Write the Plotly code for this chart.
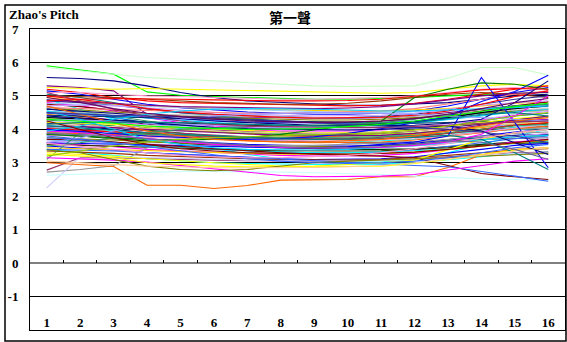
import plotly.graph_objects as go

CATEGORIES = list(range(1, 17))
TICK_LABELS = [str(c) for c in CATEGORIES]
TICK_BOUNDARIES = [c + 0.5 for c in CATEGORIES[:-1]]
Y_TICKS = list(range(-2, 8))
Y_TICK_LABELS = ["-2", "-1", "0", "1", "2", "3", "4", "5", "6", "7"]

S01 = [5.90,5.78,5.65,5.12,5.02,4.98,4.95,4.92,4.90,4.90,4.92,4.95,5.00,5.05,5.08,5.10]
S02 = [5.85,5.75,5.65,5.55,5.50,5.45,5.40,5.35,5.30,5.28,5.28,5.30,5.53,5.85,5.85,5.62]
S03 = [5.55,5.52,5.45,5.30,5.10,4.95,4.85,4.80,4.75,4.72,4.72,4.75,4.80,4.90,5.00,5.05]
S04 = [5.30,5.25,5.15,4.45,4.40,4.38,4.36,4.35,4.33,4.33,4.35,4.40,4.50,4.60,4.70,4.75]
S05 = [5.25,5.22,5.20,5.22,5.20,5.18,5.15,5.12,5.10,5.08,5.08,5.10,5.20,5.30,5.35,5.30]
S06 = [5.20,5.10,4.95,4.85,4.80,4.78,4.75,4.72,4.70,4.70,4.72,4.78,4.90,5.05,5.20,5.30]
S07 = [5.15,5.05,4.90,4.75,4.65,4.58,4.52,4.48,4.45,4.45,4.48,4.55,4.70,4.90,5.10,5.25]
S08 = [5.10,5.10,5.05,5.00,4.98,4.95,4.92,4.90,4.90,4.92,4.95,5.00,5.10,5.20,5.25,5.20]
S09 = [5.05,4.95,4.80,4.62,4.50,4.40,4.32,4.25,4.20,4.18,4.18,4.22,4.30,4.42,4.55,4.60]
S10 = [5.00,4.98,4.95,4.90,4.85,4.80,4.78,4.75,4.75,4.78,4.85,4.95,5.05,5.10,5.05,4.95]
S11 = [4.90,4.60,4.30,4.00,3.70,3.45,3.25,3.12,3.05,3.02,3.02,3.10,3.30,3.55,3.80,4.00]
S12 = [4.95,4.85,4.75,4.70,4.65,4.62,4.60,4.58,4.55,4.55,4.55,4.58,4.62,4.70,4.78,4.82]
S13 = [4.85,4.80,4.72,4.60,4.50,4.45,4.40,4.38,4.35,4.35,4.38,4.45,4.58,4.75,4.90,5.00]
S14 = [4.80,4.70,4.55,4.35,4.20,4.10,4.05,4.00,3.98,3.98,4.00,4.05,4.12,4.20,4.25,4.30]
S15 = [4.78,4.75,4.70,4.68,4.65,4.62,4.58,4.55,4.52,4.50,4.50,4.52,4.55,4.60,4.65,4.68]
S16 = [4.75,4.68,4.58,4.45,4.38,4.32,4.28,4.25,4.22,4.22,4.25,4.32,4.42,4.55,4.70,4.82]
S17 = [4.70,4.72,4.70,4.65,4.58,4.50,4.45,4.42,4.40,4.40,4.42,4.48,4.60,4.72,4.80,4.85]
S18 = [4.68,4.55,4.40,4.25,4.12,4.02,3.95,3.90,3.88,3.88,3.90,3.95,4.05,4.18,4.30,4.38]
S19 = [4.65,4.62,4.60,4.55,4.52,4.50,4.48,4.48,4.50,4.52,4.55,4.62,4.75,4.90,5.05,5.15]
S20 = [4.62,4.50,4.35,4.20,4.08,4.00,3.95,3.92,3.90,3.90,3.92,3.98,4.10,4.25,4.40,4.48]
S21 = [4.60,4.58,4.52,4.45,4.40,4.35,4.32,4.30,4.28,4.28,4.30,4.35,4.42,4.50,4.55,4.55]
S22 = [4.55,4.48,4.40,4.32,4.25,4.20,4.15,4.12,4.10,4.10,4.12,4.18,4.28,4.40,4.52,4.60]
S23 = [4.52,4.50,4.48,4.45,4.42,4.40,4.38,4.36,4.35,4.35,4.36,4.40,4.45,4.52,4.58,4.62]
S24 = [4.50,4.40,4.28,4.15,4.05,3.98,3.92,3.88,3.85,3.85,3.88,3.95,4.05,4.15,4.22,4.25]
S25 = [4.48,4.45,4.40,4.35,4.30,4.25,4.22,4.20,4.18,4.18,4.20,4.25,4.35,4.50,4.65,4.75]
S26 = [4.45,4.35,4.22,4.10,4.00,3.92,3.85,3.80,3.78,3.78,3.80,3.85,3.95,4.05,4.15,4.20]
S27 = [4.42,4.40,4.38,4.35,4.32,4.30,4.28,4.25,4.22,4.20,4.18,4.18,4.20,4.22,4.25,4.28]
S28 = [4.40,4.32,4.22,4.12,4.05,4.00,3.98,3.95,3.95,3.95,3.98,4.05,4.15,4.28,4.42,4.55]
S29 = [4.38,4.30,4.20,4.10,4.02,3.95,3.90,3.86,3.82,3.80,3.80,3.82,3.88,3.95,4.00,4.02]
S30 = [4.35,4.32,4.28,4.22,4.18,4.15,4.12,4.10,4.10,4.12,4.15,4.22,4.35,4.50,4.62,4.70]
S31 = [4.32,4.25,4.15,4.05,3.98,3.92,3.88,3.85,3.82,3.82,3.85,3.90,3.98,4.08,4.18,4.22]
S32 = [4.30,4.28,4.25,4.20,4.15,4.12,4.08,4.05,4.02,4.00,4.00,4.02,4.05,4.10,4.12,4.15]
S33 = [4.28,4.20,4.10,3.98,3.88,3.80,3.75,3.72,3.70,3.70,3.72,3.78,3.88,4.00,4.12,4.18]
S34 = [4.25,4.22,4.18,4.12,4.08,4.05,4.02,4.00,3.98,3.98,4.00,4.05,4.15,4.30,4.45,4.55]
S35 = [4.22,4.15,4.05,3.95,3.88,3.82,3.78,3.75,3.72,3.72,3.75,3.80,3.88,3.98,4.05,4.08]
S36 = [4.20,4.18,4.15,4.10,4.05,4.00,3.96,3.92,3.90,3.90,3.92,3.98,4.08,4.20,4.32,4.40]
S37 = [4.18,4.10,4.00,3.90,3.82,3.75,3.70,3.66,3.62,3.60,3.60,3.62,3.68,3.75,3.82,3.85]
S38 = [4.15,4.12,4.08,4.02,3.98,3.95,3.92,3.90,3.88,3.88,3.90,3.95,4.02,4.10,4.18,4.22]
S39 = [4.12,4.05,3.95,3.85,3.78,3.72,3.68,3.65,3.62,3.62,3.65,3.70,3.80,3.92,4.05,4.12]
S40 = [4.10,4.08,4.05,4.00,3.95,3.90,3.86,3.82,3.80,3.80,3.82,3.88,3.98,4.12,4.28,4.40]
S41 = [4.05,4.00,3.92,3.85,3.78,3.72,3.68,3.65,3.62,3.60,3.60,3.62,3.65,3.70,3.72,3.75]
S42 = [4.02,3.98,3.92,3.88,3.82,3.78,3.75,3.72,3.70,3.70,3.72,3.78,3.88,4.00,4.12,4.20]
S43 = [4.00,3.92,3.82,3.72,3.65,3.60,3.55,3.52,3.50,3.50,3.52,3.58,3.68,3.80,3.92,4.00]
S44 = [3.95,3.92,3.88,3.82,3.78,3.75,3.72,3.70,3.68,3.68,3.70,3.75,3.82,3.92,4.00,4.05]
S45 = [3.92,3.85,3.75,3.65,3.58,3.52,3.48,3.45,3.42,3.42,3.45,3.50,3.58,3.68,3.78,3.82]
S46 = [3.90,3.88,3.85,3.80,3.75,3.70,3.66,3.62,3.60,3.60,3.62,3.68,3.78,3.90,4.02,4.10]
S47 = [3.85,3.80,3.72,3.65,3.58,3.52,3.48,3.45,3.42,3.40,3.40,3.42,3.48,3.55,3.62,3.65]
S48 = [3.82,3.80,3.78,3.75,3.72,3.70,3.68,3.66,3.65,3.65,3.68,3.72,3.80,3.92,4.05,4.15]
S49 = [3.80,3.72,3.62,3.52,3.45,3.40,3.36,3.32,3.30,3.30,3.32,3.38,3.48,3.60,3.72,3.80]
S50 = [3.75,3.72,3.68,3.62,3.58,3.55,3.52,3.50,3.48,3.48,3.50,3.55,3.62,3.70,3.78,3.82]
S51 = [3.70,3.65,3.58,3.50,3.45,3.40,3.36,3.33,3.30,3.30,3.32,3.36,3.42,3.50,3.58,3.62]
S52 = [3.65,3.62,3.58,3.55,3.52,3.50,3.48,3.46,3.45,3.45,3.48,3.52,3.60,3.70,3.80,3.88]
S53 = [3.60,3.55,3.48,3.40,3.35,3.30,3.26,3.22,3.20,3.20,3.22,3.28,3.38,3.50,3.62,3.70]
S54 = [3.55,3.52,3.48,3.45,3.42,3.40,3.38,3.36,3.35,3.35,3.36,3.40,3.45,3.52,3.58,3.60]
S55 = [3.50,3.45,3.38,3.30,3.25,3.20,3.16,3.12,3.10,3.10,3.12,3.18,3.28,3.40,3.52,3.58]
S56 = [3.45,3.42,3.38,3.35,3.32,3.30,3.28,3.26,3.25,3.25,3.28,3.32,3.40,3.50,3.60,3.68]
S57 = [3.40,3.32,3.22,3.12,3.05,3.00,2.98,2.96,2.95,2.95,2.96,3.00,3.08,3.18,3.28,3.32]
S58 = [3.35,3.32,3.28,3.22,3.18,3.15,3.12,3.10,3.08,3.08,3.10,3.15,3.22,3.30,3.38,3.42]
S59 = [3.10,3.90,3.88,3.85,3.82,3.80,3.78,3.76,3.75,3.75,3.78,3.82,3.90,4.00,4.10,4.15]
S60 = [2.78,3.15,3.15,3.12,3.10,3.08,3.06,3.05,3.05,3.06,3.08,3.12,3.18,3.25,3.30,3.32]
S61 = [2.72,2.80,2.91,3.45,3.48,3.50,3.50,3.52,3.52,3.55,3.58,3.62,3.70,3.80,3.88,3.92]
S62 = [2.25,3.18,3.18,3.15,3.12,3.10,3.08,3.06,3.05,3.05,3.06,3.10,3.15,3.22,3.28,3.30]
S63 = [3.00,2.95,2.89,2.33,2.33,2.23,2.32,2.48,2.50,2.50,2.58,2.58,2.86,3.24,3.40,3.45]
S64 = [2.63,2.66,2.70,2.72,2.74,2.74,2.74,2.72,2.70,2.68,2.65,2.60,2.55,2.52,2.50,2.48]
S65 = [3.60,3.58,3.55,3.52,3.50,3.48,3.46,3.45,3.45,3.48,3.55,3.62,3.80,5.55,4.20,2.85]
S66 = [4.00,3.95,3.88,3.80,3.75,3.72,3.70,3.72,3.78,3.88,4.02,4.20,4.38,4.83,5.13,5.62]
S67 = [3.85,3.80,3.75,3.70,3.68,3.70,3.75,3.85,3.98,4.10,4.24,4.95,5.20,5.39,5.35,5.20]
S68 = [3.70,3.68,3.62,3.55,3.48,3.42,3.36,3.30,3.25,3.22,3.20,3.15,2.92,2.68,2.58,2.50]
S69 = [3.40,3.38,3.35,3.30,3.25,3.20,3.15,3.10,3.05,3.00,2.95,2.92,2.88,2.75,2.60,2.45]
S70 = [3.30,3.25,3.20,3.12,3.05,3.00,2.95,2.90,2.88,2.88,2.90,2.98,3.10,3.25,3.38,3.45]
S71 = [3.15,3.12,3.08,3.02,2.92,2.80,2.70,2.62,2.58,2.58,2.60,2.65,2.78,2.92,3.05,3.12]
S72 = [3.25,3.20,3.15,3.00,2.95,2.90,2.88,2.88,2.90,2.95,3.00,3.08,3.40,3.70,3.90,4.00]
S73 = [3.38,3.30,3.10,2.90,2.80,2.76,2.80,2.90,3.00,3.05,3.08,3.10,3.15,3.20,3.25,3.28]
S74 = [4.55,4.30,4.00,3.70,3.55,3.45,3.40,3.38,3.38,3.40,3.45,3.52,3.60,3.70,3.78,3.82]
S75 = [5.00,4.90,4.78,4.62,4.52,4.45,4.40,4.36,4.34,4.34,4.36,4.42,4.55,4.75,4.98,5.15]
S76 = [4.88,4.82,4.76,4.72,4.68,4.66,4.64,4.62,4.62,4.64,4.68,4.76,4.88,5.00,5.08,5.10]
S77 = [4.40,4.35,4.28,4.20,4.12,4.06,4.02,4.00,3.98,3.98,4.00,4.05,4.10,3.95,3.60,3.25]
S78 = [4.10,4.05,3.98,3.90,3.85,3.80,3.76,3.72,3.70,3.70,3.72,3.76,3.82,3.70,3.30,2.80]
S79 = [3.95,3.90,3.82,3.72,3.62,3.55,3.50,3.46,3.44,3.44,3.46,3.52,3.62,3.85,4.40,5.00]
S80 = [4.60,4.55,4.48,4.40,4.32,4.25,4.20,4.15,4.12,4.10,4.10,4.12,4.18,4.30,4.80,5.45]
S81 = [3.60,3.75,3.95,4.15,4.30,4.40,4.45,4.48,4.50,4.50,4.48,4.45,4.40,4.35,4.30,4.25]
S82 = [4.70,4.45,4.20,3.95,3.80,3.70,3.65,3.62,3.62,3.65,3.70,3.80,3.95,4.10,4.25,4.35]
S83 = [3.50,3.60,3.75,3.90,4.00,4.05,4.08,4.10,4.12,4.15,4.20,4.30,4.45,4.60,4.70,4.75]
S84 = [5.10,4.85,4.60,4.40,4.25,4.15,4.10,4.08,4.06,4.05,4.05,4.08,4.12,4.18,4.22,4.25]
S85 = [3.95,4.10,4.30,4.45,4.55,4.60,4.62,4.62,4.60,4.58,4.55,4.55,4.58,4.62,4.65,4.70]
S86 = [4.25,4.00,3.75,3.55,3.42,3.35,3.30,3.28,3.26,3.26,3.28,3.32,3.40,3.50,3.62,3.70]
S87 = [3.20,3.35,3.50,3.62,3.70,3.75,3.78,3.80,3.82,3.85,3.90,3.98,4.10,4.25,4.40,4.50]
S88 = [4.50,4.45,4.42,4.40,4.38,4.35,4.30,4.25,4.20,4.15,4.10,4.05,4.00,3.92,3.80,3.60]
S89 = [3.05,3.00,2.95,2.90,2.88,2.85,2.85,2.85,2.86,2.88,2.92,3.00,3.10,3.22,3.35,3.45]
S90 = [4.85,4.90,4.92,4.92,4.90,4.88,4.86,4.85,4.85,4.86,4.90,4.98,5.08,5.18,5.22,5.20]
S91 = [3.75,3.70,3.60,3.48,3.35,3.22,3.12,3.05,3.00,2.98,3.00,3.05,3.15,3.30,3.45,3.55]
S92 = [4.15,4.20,4.22,4.22,4.20,4.18,4.15,4.12,4.10,4.10,4.12,4.20,4.32,4.45,4.50,4.40]
S93 = [3.58,3.50,3.40,3.30,3.22,3.18,3.15,3.15,3.18,3.22,3.30,3.42,3.58,3.75,3.90,4.00]
S94 = [4.95,4.80,4.62,4.48,4.38,4.30,4.25,4.22,4.20,4.22,4.25,4.32,4.45,4.62,4.80,4.92]
S95 = [3.88,3.85,3.80,3.72,3.65,3.58,3.52,3.48,3.45,3.45,3.48,3.55,3.65,3.62,3.40,3.10]
S96 = [4.30,4.25,4.18,4.10,4.05,4.02,4.00,4.00,4.02,4.08,4.15,4.25,4.40,4.55,4.68,4.78]

SERIES = [S01,S02,S03,S04,S05,S06,S07,S08,S09,S10,S11,S12,S13,S14,S15,S16,S17,S18,S19,S20,
          S21,S22,S23,S24,S25,S26,S27,S28,S29,S30,S31,S32,S33,S34,S35,S36,S37,S38,S39,S40,
          S41,S42,S43,S44,S45,S46,S47,S48,S49,S50,S51,S52,S53,S54,S55,S56,S57,S58,S59,S60,
          S61,S62,S63,S64,S65,S66,S67,S68,S69,S70,S71,S72,S73,S74,S75,S76,S77,S78,S79,S80,
          S81,S82,S83,S84,S85,S86,S87,S88,S89,S90,S91,S92,S93,S94,S95,S96]

COLORS = ["#00FF00","#CCFFCC","#000080","#800080","#FFFF00","#FF0000","#0000FF","#FF99CC","#008080","#993300",
          "#00FFFF","#FFCC00","#333399","#FF00FF","#99CCFF","#800000","#CC99FF","#339966","#FF8080","#0066CC",
          "#808000","#00CCFF","#C0C0C0","#660066","#3366FF","#FF9900","#003366","#FF00FF","#33CCCC","#000000",
          "#99CC00","#9999FF","#008000","#CCCCFF","#993366","#FFFF00","#000080","#FFCC99","#00FFFF","#800080",
          "#666699","#FF0000","#0000FF","#969696","#33CCCC","#FF6600","#003300","#FF99CC","#3366FF","#808000",
          "#00FFFF","#CC99FF","#FF00FF","#333300","#0000FF","#FFCC00","#00FFFF","#993300","#339966","#993366",
          "#969696","#CCCCFF","#FF6600","#CCFFFF","#0000FF","#0000FF","#008000","#800000","#3366FF","#FFFF00",
          "#FF00FF","#FFFF00","#808000","#00CCFF","#FF0000","#800080","#000080","#008080","#FF00FF","#000080",
          "#9999FF","#FF6600","#339966","#993366","#00CCFF","#800000","#99CC00","#333399","#FFCC99","#FF0000",
          "#3366FF","#008080","#FF99CC","#660066","#666699","#00FF00"]

SERIF = "Times New Roman, Liberation Serif, DejaVu Serif, serif"

fig = go.Figure()
for vals, col in zip(SERIES, COLORS):
    fig.add_trace(go.Scatter(x=CATEGORIES, y=vals, mode="lines",
                             line=dict(color=col, width=1.1),
                             showlegend=False, hoverinfo="skip"))
# carrier trace for the tick axis at y=0
fig.add_trace(go.Scatter(x=[None], y=[None], xaxis="x2", showlegend=False, hoverinfo="skip"))

fig.update_layout(
    width=567, height=342,
    margin=dict(l=30, r=2, t=29, b=12),
    paper_bgcolor="white", plot_bgcolor="white",
    title=dict(text="<b>第一聲</b>", x=290/567, xref="container", xanchor="center",
               y=1-18/342, yref="container", yanchor="middle",
               font=dict(family="Noto Sans CJK TC", size=14, color="black")),
    xaxis=dict(range=[0.5, 16.5], tickmode="array", tickvals=CATEGORIES, ticktext=TICK_LABELS,
               ticklabelposition="inside", ticks="", showgrid=False, zeroline=False,
               showline=True, linecolor="black", linewidth=1, mirror=True,
               tickfont=dict(family=SERIF, size=13, color="black", weight="bold")),
    xaxis2=dict(range=[0.5, 16.5], overlaying="x", anchor="free", position=2/9,
                tickmode="array", tickvals=TICK_BOUNDARIES, ticks="inside", ticklen=3,
                tickcolor="black", tickwidth=1, showticklabels=False, showgrid=False,
                zeroline=False, showline=False),
    yaxis=dict(range=[-2, 7], tickmode="array", tickvals=Y_TICKS, ticktext=Y_TICK_LABELS, ticks="",
               showgrid=True, gridcolor="black", gridwidth=1,
               zeroline=True, zerolinecolor="#808080", zerolinewidth=2,
               showline=True, linecolor="black", linewidth=1, mirror=True,
               ticklabelstandoff=8,
               tickfont=dict(family=SERIF, size=13, color="black", weight="bold")),
    annotations=[dict(text="<b>Zhao's Pitch</b>", xref="paper", yref="paper",
                      x=(7-30)/535, y=1+(29-15)/301, xanchor="left", yanchor="middle",
                      showarrow=False, font=dict(family=SERIF, size=13, color="black"))],
    shapes=[dict(type="rect", xref="paper", yref="paper",
                 x0=(5-30)/535, x1=(566-30)/535, y0=(330-341)/301, y1=(330-5)/301,
                 line=dict(color="black", width=1.5), layer="below")],
)

fig.write_html("out.html")
